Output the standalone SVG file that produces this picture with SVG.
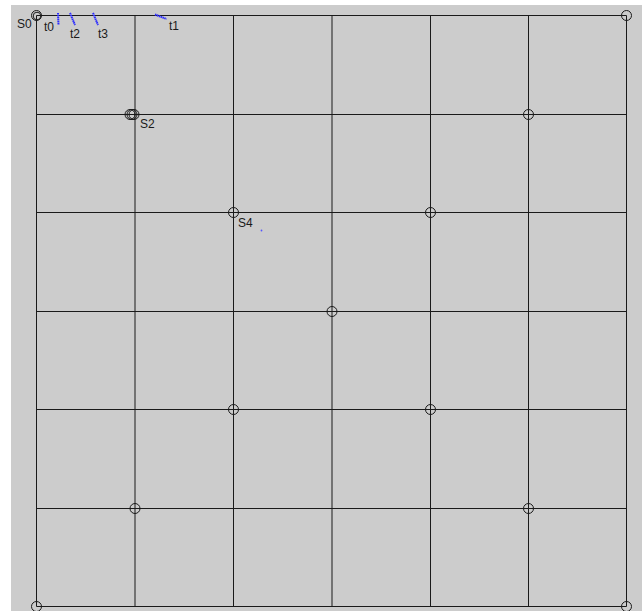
<svg xmlns="http://www.w3.org/2000/svg" width="642" height="611" viewBox="0 0 642 611">
<style>
.grid line{stroke:#1a1a1a;stroke-width:1}
.node circle{fill:none;stroke:#1a1a1a;stroke-width:1}
.lbl{font-family:"Liberation Sans",Arial,sans-serif;font-size:12px;fill:#1a1a1a}
.trk{stroke:#2a2aff;stroke-width:2;stroke-dasharray:1.5 0.5;fill:none}
</style>
<rect x="0" y="0" width="642" height="611" fill="#ffffff"/>
<rect x="11" y="5" width="631" height="606" fill="#cccccc"/>
<g id="connectors" class="grid">
<line x1="36.5" y1="15.5" x2="626.5" y2="15.5"/>
<line x1="36.5" y1="114.5" x2="626.5" y2="114.5"/>
<line x1="36.5" y1="212.5" x2="626.5" y2="212.5"/>
<line x1="36.5" y1="311.5" x2="626.5" y2="311.5"/>
<line x1="36.5" y1="409.5" x2="626.5" y2="409.5"/>
<line x1="36.5" y1="508.5" x2="626.5" y2="508.5"/>
<line x1="36.5" y1="606.5" x2="626.5" y2="606.5"/>
<line x1="36.5" y1="15.5" x2="36.5" y2="606.5"/>
<line x1="135" y1="15.5" x2="135" y2="606.5"/>
<line x1="233.5" y1="15.5" x2="233.5" y2="606.5"/>
<line x1="332" y1="15.5" x2="332" y2="606.5"/>
<line x1="430.5" y1="15.5" x2="430.5" y2="606.5"/>
<line x1="528.5" y1="15.5" x2="528.5" y2="606.5"/>
<line x1="626.5" y1="15.5" x2="626.5" y2="606.5"/>
</g>
<g id="tracks">
<line class="trk" x1="58" y1="13" x2="58.5" y2="25"/>
<line class="trk" x1="70" y1="13" x2="75" y2="25"/>
<line class="trk" x1="93" y1="13" x2="98" y2="25"/>
<line class="trk" x1="155" y1="14.5" x2="166.5" y2="19"/>
<circle cx="261.5" cy="230.5" r="0.9" fill="#5555ff"/>
</g>
<g id="S0" class="node"><circle cx="36.5" cy="15.5" r="5"/><circle cx="37" cy="16" r="3.8"/><text class="lbl" x="17" y="28">S0</text></g>
<g id="n_tr" class="node"><circle cx="626.5" cy="15.5" r="5"/></g>
<g id="S2" class="node"><circle cx="130" cy="114.5" r="5"/><circle cx="132" cy="114.5" r="5"/><circle cx="134" cy="114.5" r="5"/><text class="lbl" x="140" y="128">S2</text></g>
<g id="n_528_114" class="node"><circle cx="528.5" cy="114.5" r="5"/></g>
<g id="S4" class="node"><circle cx="233.5" cy="212.5" r="5"/><text class="lbl" x="238" y="227">S4</text></g>
<g id="n_430_212" class="node"><circle cx="430.5" cy="212.5" r="5"/></g>
<g id="n_332_311" class="node"><circle cx="332" cy="311.5" r="5"/></g>
<g id="n_233_409" class="node"><circle cx="233.5" cy="409.5" r="5"/></g>
<g id="n_430_409" class="node"><circle cx="430.5" cy="409.5" r="5"/></g>
<g id="n_135_508" class="node"><circle cx="135" cy="508.5" r="5"/></g>
<g id="n_528_508" class="node"><circle cx="528.5" cy="508.5" r="5"/></g>
<g id="n_bl" class="node"><circle cx="36.5" cy="606.5" r="5"/></g>
<g id="n_br" class="node"><circle cx="626.5" cy="606.5" r="5"/></g>
<g id="labels">
<text class="lbl" x="44" y="31">t0</text>
<text class="lbl" x="70" y="38">t2</text>
<text class="lbl" x="98" y="38">t3</text>
<text class="lbl" x="169" y="30">t1</text>
</g>
</svg>
